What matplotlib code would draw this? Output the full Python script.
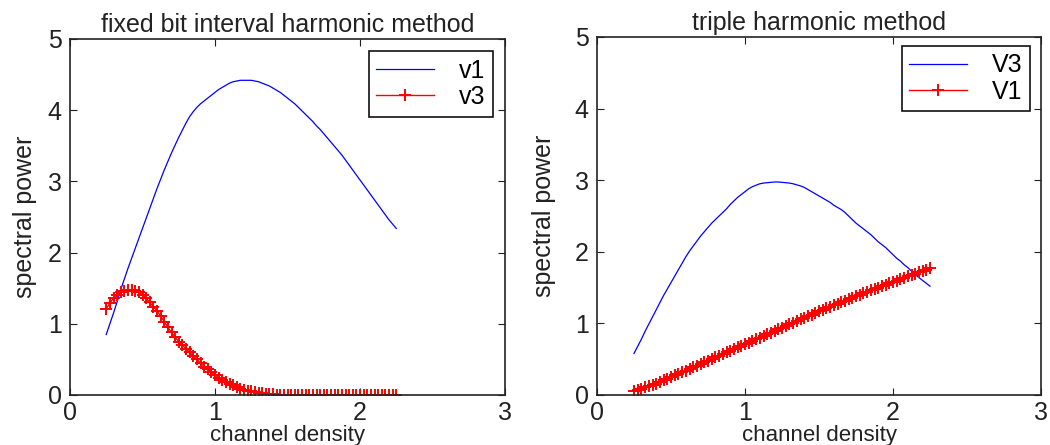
import numpy as np
import matplotlib
matplotlib.use("Agg")
import matplotlib.pyplot as plt

plt.rcParams['font.family'] = ['Liberation Sans', 'DejaVu Sans']

# =========================
# data
# =========================
density = [0.25, 0.275, 0.30, 0.325, 0.35, 0.375, 0.40, 0.425, 0.45, 0.475,
           0.50, 0.525, 0.55, 0.575, 0.60, 0.625, 0.65, 0.675, 0.70, 0.725,
           0.75, 0.775, 0.80, 0.825, 0.85, 0.875, 0.90, 0.925, 0.95, 0.975,
           1.00, 1.025, 1.05, 1.075, 1.10, 1.125, 1.15, 1.175, 1.20, 1.225,
           1.25, 1.275, 1.30, 1.325, 1.35, 1.375, 1.40, 1.425, 1.45, 1.475,
           1.50, 1.525, 1.55, 1.575, 1.60, 1.625, 1.65, 1.675, 1.70, 1.725,
           1.75, 1.775, 1.80, 1.825, 1.85, 1.875, 1.90, 1.925, 1.95, 1.975,
           2.00, 2.025, 2.05, 2.075, 2.10, 2.125, 2.15, 2.175, 2.20, 2.225,
           2.25]

# fixed bit interval harmonic method
fixed_v1 = [0.85, 1.00, 1.15, 1.31, 1.48, 1.63, 1.78, 1.92, 2.06, 2.20,
            2.34, 2.48, 2.62, 2.76, 2.90, 3.03, 3.16, 3.28, 3.40, 3.51,
            3.62, 3.72, 3.82, 3.91, 3.98, 4.04, 4.09, 4.13, 4.17, 4.21,
            4.25, 4.29, 4.32, 4.35, 4.38, 4.40, 4.41, 4.42, 4.42, 4.42,
            4.42, 4.41, 4.40, 4.38, 4.36, 4.34, 4.31, 4.28, 4.25, 4.21,
            4.17, 4.13, 4.09, 4.04, 3.99, 3.94, 3.89, 3.84, 3.78, 3.73,
            3.67, 3.61, 3.55, 3.49, 3.43, 3.37, 3.30, 3.23, 3.16, 3.09,
            3.02, 2.95, 2.88, 2.81, 2.74, 2.67, 2.60, 2.53, 2.46, 2.40,
            2.34]
fixed_v3 = [1.21, 1.29, 1.36, 1.41, 1.44, 1.46, 1.47, 1.47, 1.46, 1.44,
            1.41, 1.36, 1.30, 1.24, 1.18, 1.11, 1.03, 0.95, 0.88, 0.81,
            0.75, 0.70, 0.65, 0.60, 0.55, 0.50, 0.45, 0.40, 0.36, 0.32,
            0.28, 0.245, 0.21, 0.185, 0.16, 0.135, 0.11, 0.09, 0.075, 0.062,
            0.05, 0.04, 0.03, 0.024, 0.018, 0.014, 0.01, 0.007, 0.005, 0.004,
            0.003, 0.002, 0.001, 0.0, 0.0, 0.0, 0.0, 0.0, 0.0, 0.0,
            0.0, 0.0, 0.0, 0.0, 0.0, 0.0, 0.0, 0.0, 0.0, 0.0,
            0.0, 0.0, 0.0, 0.0, 0.0, 0.0, 0.0, 0.0, 0.0, 0.0,
            0.0]

# triple harmonic method
triple_V3 = [0.58, 0.68, 0.78, 0.89, 0.99, 1.09, 1.19, 1.29, 1.39, 1.48,
             1.57, 1.66, 1.75, 1.84, 1.93, 2.01, 2.08, 2.15, 2.22, 2.28,
             2.34, 2.40, 2.45, 2.50, 2.55, 2.60, 2.66, 2.71, 2.76, 2.80,
             2.84, 2.88, 2.91, 2.93, 2.95, 2.96, 2.965, 2.97, 2.975, 2.975,
             2.97, 2.965, 2.96, 2.95, 2.935, 2.92, 2.90, 2.87, 2.84, 2.81,
             2.78, 2.75, 2.72, 2.69, 2.65, 2.62, 2.59, 2.55, 2.50, 2.45,
             2.40, 2.36, 2.32, 2.28, 2.24, 2.19, 2.14, 2.10, 2.06, 2.01,
             1.96, 1.91, 1.87, 1.82, 1.78, 1.73, 1.68, 1.64, 1.60, 1.56,
             1.52]
triple_V1 = [0.06, 0.075, 0.09, 0.105, 0.12, 0.14, 0.16, 0.18, 0.205, 0.228,
             0.25, 0.273, 0.296, 0.319, 0.342, 0.365, 0.388, 0.411, 0.434, 0.457,
             0.480, 0.503, 0.526, 0.549, 0.572, 0.595, 0.618, 0.641, 0.664, 0.687,
             0.710, 0.733, 0.756, 0.779, 0.802, 0.825, 0.848, 0.871, 0.894, 0.917,
             0.940, 0.963, 0.986, 1.009, 1.032, 1.055, 1.078, 1.101, 1.124, 1.147,
             1.170, 1.191, 1.212, 1.233, 1.254, 1.275, 1.296, 1.317, 1.338, 1.359,
             1.380, 1.400, 1.420, 1.440, 1.460, 1.480, 1.500, 1.520, 1.540, 1.560,
             1.580, 1.599, 1.618, 1.637, 1.656, 1.675, 1.694, 1.713, 1.732, 1.751,
             1.770]

x_ticks = [0, 1, 2, 3]
y_ticks = [0, 1, 2, 3, 4, 5]

panels = [
    ("fixed bit interval harmonic method", fixed_v1, fixed_v3, "v1", "v3",
     [70 / 1050, 1 - 395 / 445, 435 / 1050, 356 / 445], (0.972, 0.966), 8),
    ("triple harmonic method", triple_V3, triple_V1, "V3", "V1",
     [597 / 1050, 1 - 395 / 445, 444 / 1050, 358 / 445], (0.975, 0.975), 13.5),
]

FS = 18

# =========================
# plot
# =========================
fig = plt.figure(figsize=(10.5, 4.45), dpi=100)

for title, blue, red, lab_b, lab_r, pos, anchor, ypad in panels:
    ax = fig.add_axes(pos)
    ax.plot(density, blue, color='#0000ff', lw=0.9, label=lab_b)
    ax.plot(density, red, color='#ff0000', lw=1.0, marker='+',
            ms=9, mew=1.4, label=lab_r)

    ax.set_xlim(0, 3)
    ax.set_ylim(0, 5)
    ax.set_xticks(x_ticks)
    ax.set_yticks(y_ticks)
    ax.tick_params(direction='in', top=True, right=True, length=5,
                   labelsize=FS, pad=6, colors='#222222')
    ax.tick_params(axis='x', pad=4)
    for s in ax.spines.values():
        s.set_linewidth(1.2)
        s.set_color('#222222')

    ax.set_title(title, fontsize=FS, pad=5, color='#222222')
    ax.set_xlabel("channel density", fontsize=16, labelpad=0, color='#222222')
    ax.set_ylabel("spectral power", fontsize=FS, labelpad=ypad, color='#222222')

    leg = ax.legend(loc='upper right', bbox_to_anchor=anchor, fontsize=FS,
                    fancybox=False, framealpha=1, edgecolor='#111111',
                    handlelength=2.3, borderpad=0.3, labelspacing=0.1,
                    handletextpad=1.0, borderaxespad=0)
    leg.get_frame().set_linewidth(1.2)

fig.savefig("out.png", dpi=100)
